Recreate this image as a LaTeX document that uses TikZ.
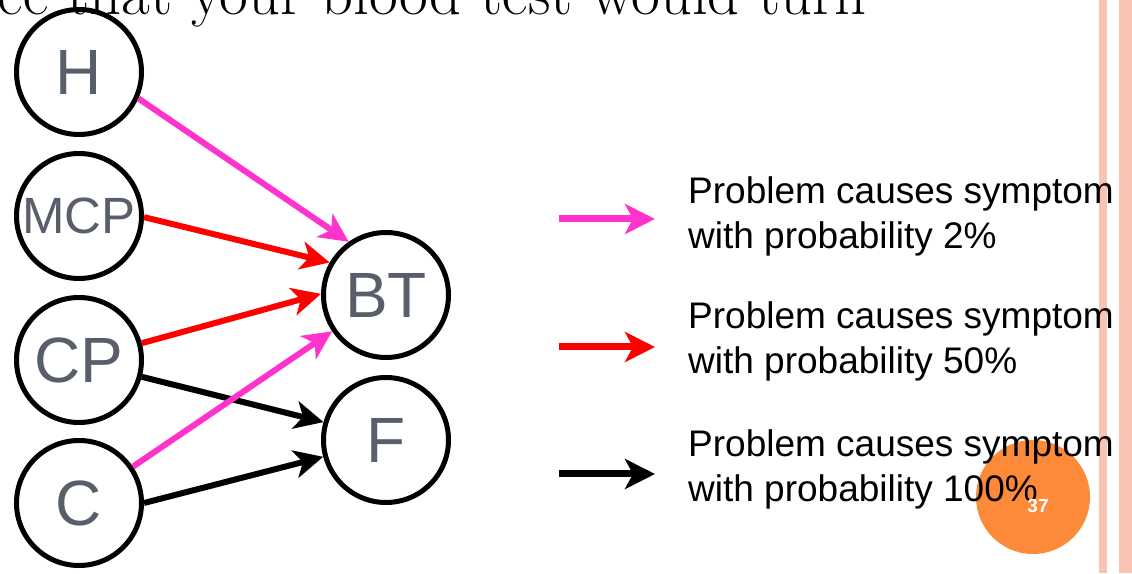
\documentclass[tikz,border=0pt]{standalone}
\usepackage{fontspec}
\newfontfamily\arialfont{Liberation Sans}
\usetikzlibrary{arrows.meta}
\definecolor{slate}{RGB}{88,94,106}
\definecolor{hotpink}{RGB}{255,51,204}
\definecolor{pageorange}{RGB}{253,138,56}
\definecolor{stripe}{RGB}{250,196,178}
\begin{document}
\begin{tikzpicture}[x=1pt, y=1pt,
  var/.style={draw, line width=5pt, circle, minimum size=125pt, inner sep=0pt,
    text=slate, font=\arialfont\fontsize{64}{64}\selectfont},
  link/.style={line width=6pt, -{Stealth[length=29pt, width=28pt, inset=8pt]}},
  key/.style={line width=7pt, -{Stealth[length=30pt, width=30pt, inset=8pt]}},
  keytext/.style={anchor=base west, align=left, inner sep=0pt,
    font=\arialfont\fontsize{37}{45}\selectfont}]
  \useasboundingbox (0,0) rectangle (1132,573);
  % page decoration
  \fill [stripe] (1099,0) rectangle (1107,573);
  \fill [stripe] (1119,0) rectangle (1132,573);
  \node [circle, fill=pageorange, minimum size=114pt, inner sep=0pt] (pg) at (1033,76) {};
  \node [anchor=base east, inner sep=0pt, font=\fontsize{62.5}{62.5}\selectfont] (title) at (867,558) {ce that your blood test would turn};
  % variables
  \node [var] (H) at (79,501) {H};
  \node [var, font=\arialfont\fontsize{51}{51}\selectfont] (MCP) at (79,357) {MCP};
  \node [var] (CP) at (79,213) {CP};
  \node [var] (C) at (79,70) {C};
  \node [var] (BT) at (386,278) {BT};
  \node [var] (F) at (386,133) {F};
  \draw [link, hotpink] (H.-24) -- (BT.125);
  \draw [link, red] (MCP.-1) -- (BT.150);
  \draw [link, red] (CP.15) -- (BT.179);
  \draw [link] (CP.-15) -- (F.164);
  \draw [link, hotpink] (C.34) -- (BT.214);
  \draw [link] (C.0) -- (F.195);
  % legend
  \coordinate (k1) at (559,354);
  \coordinate (k1e) at (655,354);
  \coordinate (k2) at (559,226);
  \coordinate (k2e) at (655,226);
  \coordinate (k3) at (559,99);
  \coordinate (k3e) at (655,99);
  \draw [key, hotpink] (k1) -- (k1e);
  \draw [key, red] (k2) -- (k2e);
  \draw [key] (k3) -- (k3e);
  \node [keytext] (t1) at (688,324) {Problem causes symptom\\with probability 2\%};
  \node [keytext] (t2) at (688,199) {Problem causes symptom\\with probability 50\%};
  \node [keytext] (t3) at (688,71) {Problem causes symptom\\with probability 100\%};
  \node [text=white, inner sep=0pt, font=\arialfont\bfseries\fontsize{19}{19}\selectfont] (pgnum) at ([shift={(5,-9)}]pg.center) {37};
\end{tikzpicture}
\end{document}
